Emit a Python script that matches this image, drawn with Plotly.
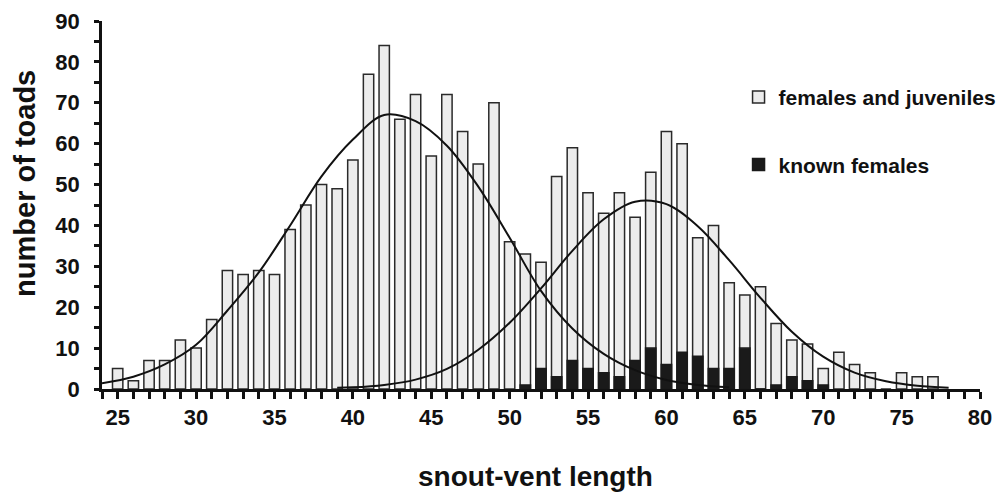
import plotly.graph_objects as go

# snout-vent length classes (mm)
lengths = list(range(25, 78))
females_juveniles = [5, 2, 7, 7, 12, 10, 17, 29, 28, 29, 28, 39, 45, 50, 49, 56, 77, 84, 66,
                     72, 57, 72, 63, 55, 70, 36, 33, 31, 52, 59, 48, 43, 48, 42, 53, 63, 60,
                     37, 40, 26, 23, 25, 16, 12, 11, 5, 9, 6, 4, 0, 4, 3, 3]
known_lengths = list(range(51, 71))
known_females = [1, 5, 3, 7, 5, 4, 3, 7, 10, 6, 9, 8, 5, 5, 10, 0, 1, 3, 2, 1]

# fitted curves
curve1_x = [24, 26, 28, 30, 32, 34, 36, 38, 40, 42, 44, 46, 48, 50, 52, 54, 56, 58, 60, 62, 64]
curve1_y = [1.4, 3.0, 6.0, 10.8, 19.2, 28.5, 40.0, 52.0, 61.0, 67.0, 65.5, 59.5, 49.5, 37.0,
            24.0, 14.8, 8.6, 4.6, 2.2, 1.0, 0.4]
curve2_x = [39, 40, 42, 44, 46, 48, 50, 52, 54, 56, 58, 60, 62, 64, 66, 68, 70, 72, 74, 76, 78]
curve2_y = [0.3, 0.4, 1.0, 2.3, 4.9, 9.6, 16.2, 24.6, 33.8, 41.5, 45.8, 45.2, 39.8, 31.5,
            22.3, 14.0, 7.9, 4.0, 1.9, 0.8, 0.3]

FONT = "Liberation Sans, Arial, Helvetica, sans-serif"

fig = go.Figure()
fig.add_trace(go.Bar(x=lengths, y=females_juveniles, width=0.66, name="females and juveniles",
                     marker=dict(color="#ececec", line=dict(color="#2a2a2a", width=1.5)),
                     legendgroup="a"))
fig.add_trace(go.Bar(x=known_lengths, y=known_females, width=0.66, name="known females",
                     marker=dict(color="#1a1a1a", line=dict(color="#1a1a1a", width=1.5)),
                     legendgroup="b"))
fig.add_trace(go.Scatter(x=curve1_x, y=curve1_y, mode="lines", line=dict(color="#111", width=2, shape="spline"),
                         showlegend=False, hoverinfo="skip"))
fig.add_trace(go.Scatter(x=curve2_x, y=curve2_y, mode="lines", line=dict(color="#111", width=2, shape="spline"),
                         showlegend=False, hoverinfo="skip"))

fig.update_layout(
    width=1002, height=492,
    margin=dict(l=102, r=22, t=21, b=103, autoexpand=False),
    barmode="overlay",
    plot_bgcolor="white", paper_bgcolor="white",
    font=dict(family=FONT, size=22, color="#111", weight="bold"),
    showlegend=True,
    legend=dict(x=0.725, xanchor="left", y=0.848, yanchor="top", traceorder="grouped",
                tracegroupgap=37, bgcolor="rgba(0,0,0,0)",
                font=dict(family=FONT, size=21, color="#111", weight="bold")),
    xaxis=dict(range=[24, 80], tickmode="linear", tick0=25, dtick=5, showgrid=False, zeroline=False,
               showline=True, linecolor="#111", linewidth=3, ticks="outside", ticklen=7, tickwidth=2.5,
               tickcolor="#111",
               minor=dict(dtick=1, tick0=24, ticks="outside", ticklen=7, tickwidth=2.5, tickcolor="#111"),
               tickfont=dict(family=FONT, size=22, color="#111", weight="bold")),
    yaxis=dict(range=[0, 90], tickmode="linear", tick0=0, dtick=10, showgrid=False, zeroline=False,
               showline=True, linecolor="#111", linewidth=2.5, ticks="outside", ticklen=5, tickwidth=2.5,
               tickcolor="#111", ticklabelstandoff=10,
               minor=dict(dtick=5, ticks="outside", ticklen=5, tickwidth=2.5, tickcolor="#111"),
               tickfont=dict(family=FONT, size=22, color="#111", weight="bold")),
    annotations=[
        dict(text="snout-vent length", xref="paper", yref="paper", x=0.494, y=-0.238,
             xanchor="center", yanchor="middle", showarrow=False,
             font=dict(family=FONT, size=28, color="#111", weight="bold")),
        dict(text="number of toads", xref="paper", yref="paper", x=-0.0877, y=0.56,
             xanchor="center", yanchor="middle", textangle=-90, showarrow=False,
             font=dict(family=FONT, size=29, color="#111", weight="bold")),
    ],
)

# remove the browser's default page margin so the 1002x492 figure fills the window exactly
fig.write_html("out.html", config={"displayModeBar": False},
               post_script="document.body.style.margin='0';document.body.style.overflow='hidden';")
